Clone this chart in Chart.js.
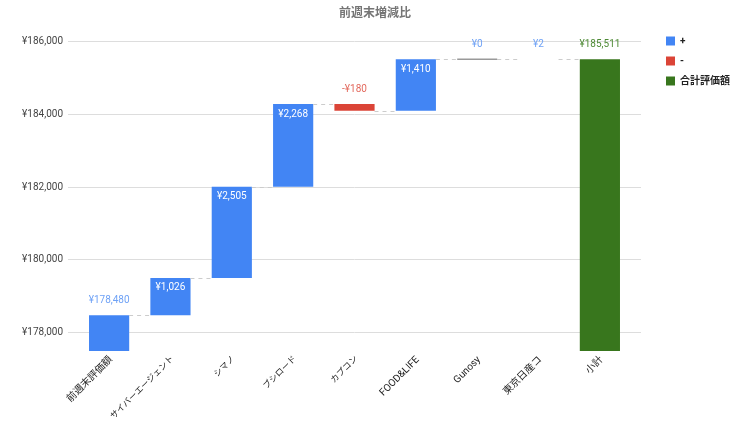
<!DOCTYPE html>
<html>
<head>
<meta charset="utf-8">
<script src="https://cdn.jsdelivr.net/npm/chart.js@4.4.0/dist/chart.umd.min.js"></script>
<style>
  html, body { margin: 0; padding: 0; background: #fff; }
  #wrap { width: 750px; height: 422px; }
</style>
</head>
<body>
<div id="wrap"><canvas id="chart"></canvas></div>
<script>
// ===== データ =====
const categories = ['前週末評価額', 'サイバーエージェント', 'シマノ', 'ブシロード', 'カプコン', 'FOOD&LIFE', 'Gunosy', '東京日産コ', '小計'];
const startValue = 178480;
const changes = [1026, 2505, 2268, -180, 1410, 0, 2];
const yTicks = [178000, 180000, 182000, 184000, 186000];
const yMin = 177500;
const yMax = 186000;

const BLUE = '#4285F4', RED = '#DB4437', GREEN = '#38761D';
const FONT = "Roboto, 'Noto Sans CJK JP', sans-serif";

// ===== ウォーターフォールの区間を作る =====
const bars = [];
bars.push({ kind: 'plus', lo: yMin, hi: startValue, value: startValue, end: startValue, total: true });
let running = startValue;
changes.forEach(c => {
  const from = running;
  running += c;
  bars.push({ kind: c < 0 ? 'minus' : 'plus', lo: Math.min(from, running), hi: Math.max(from, running), value: c, end: running, total: false });
});
bars.push({ kind: 'total', lo: yMin, hi: running, value: running, end: running, total: true });

const plusData = bars.map(b => b.kind === 'plus' ? [b.lo, b.hi] : null);
const minusData = bars.map(b => b.kind === 'minus' ? [b.lo, b.hi] : null);
const totalData = bars.map(b => b.kind === 'total' ? [b.lo, b.hi] : null);

function yen(v) {
  return (v < 0 ? '-¥' : '¥') + Math.abs(v).toLocaleString('en-US');
}

// カタカナだけのラベルは少し小さく見える
function tickSize(label) {
  const kana = /[\u30A0-\u30FF]/.test(label);
  const kanji = /[\u4E00-\u9FFF]/.test(label);
  return kana && !kanji ? 8.5 : 10;
}

// ===== 点線の接続線と値ラベル =====
const waterfallPlugin = {
  id: 'waterfall',
  afterLayout(chart) {
    // 凡例をグラフの右上に寄せる
    const lg = chart.legend;
    if (lg) {
      lg.left += 15; lg.right += 15;
      lg.top += 26; lg.bottom += 26;
    }
    // タイトルはキャンバス全体の中央
    const tb = chart.titleBlock;
    if (tb) {
      tb.left += 12.5; tb.right += 12.5;
    }
  },
  afterDatasetsDraw(chart) {
    const { ctx, scales: { x, y } } = chart;
    const w = 20;
    ctx.save();
    // 接続線
    ctx.strokeStyle = '#cccccc';
    ctx.lineWidth = 1;
    ctx.setLineDash([4, 4]);
    for (let i = 0; i < bars.length - 1; i++) {
      const py = Math.round(y.getPixelForValue(bars[i].end)) + 0.5;
      ctx.beginPath();
      ctx.moveTo(x.getPixelForValue(i) + w, py);
      ctx.lineTo(x.getPixelForValue(i + 1) - w, py);
      ctx.stroke();
    }
    ctx.setLineDash([]);
    // 0 の棒はグレーの線
    bars.forEach((b, i) => {
      if (!b.total && b.value === 0) {
        const py = y.getPixelForValue(b.end);
        ctx.strokeStyle = '#999999';
        ctx.lineWidth = 1.5;
        ctx.beginPath();
        ctx.moveTo(x.getPixelForValue(i) - w, py);
        ctx.lineTo(x.getPixelForValue(i) + w, py);
        ctx.stroke();
      }
    });
    // 値ラベル
    ctx.font = '10px ' + FONT;
    ctx.textAlign = 'center';
    ctx.textBaseline = 'middle';
    bars.forEach((b, i) => {
      const cx = x.getPixelForValue(i);
      const top = y.getPixelForValue(b.hi);
      const h = y.getPixelForValue(b.lo) - top;
      const colour = b.kind === 'total' ? '#4e8a35' : (b.kind === 'minus' ? '#e36a5e' : '#6fa2f6');
      if (b.total || h < 20) {
        ctx.fillStyle = colour;
        ctx.fillText(yen(b.value), cx, top - 15);
      } else {
        ctx.fillStyle = '#ffffff';
        ctx.fillText(yen(b.value), cx, top + 10);
      }
    });
    ctx.restore();
  }
};

const common = { grouped: false, barPercentage: 0.655, categoryPercentage: 1, borderWidth: 0 };

new Chart(document.getElementById('chart').getContext('2d'), {
  type: 'bar',
  data: {
    labels: categories,
    datasets: [
      Object.assign({ label: '+', data: plusData, backgroundColor: BLUE }, common),
      Object.assign({ label: '-', data: minusData, backgroundColor: RED }, common),
      Object.assign({ label: '合計評価額', data: totalData, backgroundColor: GREEN }, common)
    ]
  },
  options: {
    responsive: true,
    maintainAspectRatio: false,
    animation: false,
    layout: { padding: { left: 0, right: 25, top: 0, bottom: 0 } },
    plugins: {
      title: {
        display: true,
        text: '前週末増減比',
        color: '#757575',
        font: { family: FONT, size: 12, weight: 'bold' },
        padding: { top: 7, bottom: 20 }
      },
      legend: {
        position: 'right',
        align: 'start',
        labels: {
          boxWidth: 9,
          boxHeight: 9,
          padding: 10,
          color: '#222222',
          font: { family: FONT, size: 10, weight: 'bold' }
        }
      },
      tooltip: { enabled: false }
    },
    scales: {
      x: {
        offset: true,
        grid: { display: false },
        border: { display: false },
        ticks: {
          autoSkip: false,
          minRotation: 45,
          maxRotation: 45,
          color: '#222222',
          font: c => ({ family: FONT, size: tickSize(categories[c.index] || '') }),
          padding: -5,
          labelOffset: 2
        },
        afterBuildTicks(s) {
          s._startValue = -0.67;
          s._valueRange = categories.length - 1 + 1.34;
        },
        afterFit(s) { s.height = 71; }
      },
      y: {
        min: yMin,
        max: yMax,
        grid: { color: '#dddddd', drawTicks: false },
        border: { display: false },
        ticks: {
          color: '#444444',
          font: { family: FONT, size: 10 },
          padding: 5,
          callback: v => yen(v)
        },
        afterBuildTicks(s) {
          s.ticks = yTicks.map(v => ({ value: v }));
        },
        afterFit(s) { s.width = 68; }
      }
    }
  },
  plugins: [waterfallPlugin]
});
</script>
</body>
</html>
